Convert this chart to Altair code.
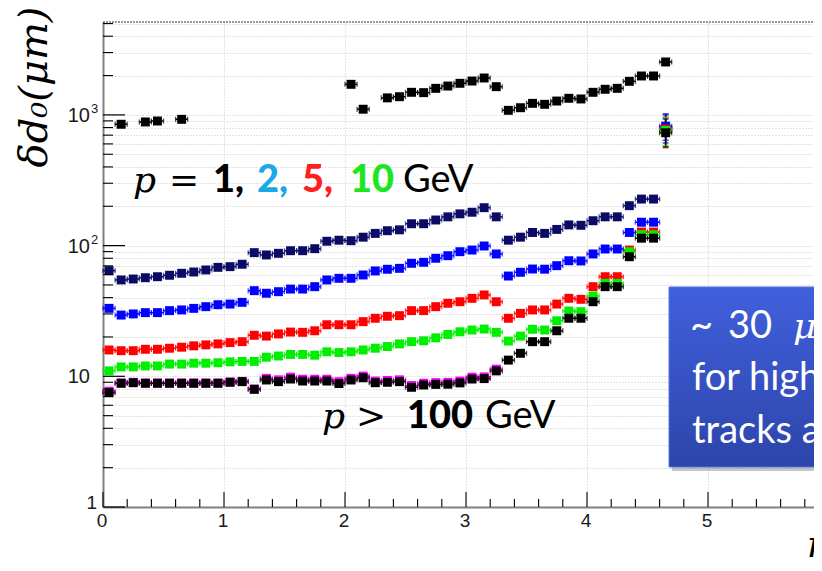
import altair as alt
import pandas as pd

# ---------------- data ----------------
ETA = [0.05, 0.15, 0.25, 0.35, 0.45, 0.55, 0.65, 0.75, 0.85, 0.95,
       1.05, 1.15, 1.25, 1.35, 1.45, 1.55, 1.65, 1.75, 1.85, 1.95,
       2.05, 2.15, 2.25, 2.35, 2.45, 2.55, 2.65, 2.75, 2.85, 2.95,
       3.05, 3.15, 3.25, 3.35, 3.45, 3.55, 3.65, 3.75, 3.85, 3.95,
       4.05, 4.15, 4.25, 4.35, 4.45, 4.55, 4.65]
BIN_HALF = 0.05

MAGENTA = [7.7, 8.9, 9.0, 8.9, 8.9, 8.9, 8.9, 8.9, 8.9, 8.9,
           9.05, 9.15, 8.0, 9.65, 9.4, 9.85, 9.5, 9.5, 9.5, 9.1,
           9.65, 10.05, 9.2, 9.3, 9.4, 8.5, 8.85, 8.95, 9.0, 9.2,
           9.85, 9.9, 11.35, None, None, None, None, None, None, None,
           None, None, None, None, None, None, None]
TOP = [None, 848, None, 883, 898, None, 925, None, None, None,
       None, None, None, None, None, None, None, None, None, None,
       1714, 1105, None, 1350, 1378, 1489, 1480, 1597, 1663, 1745,
       1816, 1916, 1644, 1084, 1135, 1226, 1205, 1277, 1340, 1324,
       1489, 1571, 1597, 1807, 1985, 1985, 2540]
NAVY = [64.3, 54.6, 55.5, 56.8, 57.8, 59.3, 61.4, 62.8, 65.1, 68.2,
        69, 72, 88.3, 84.8, 87.3, 91.4, 91.4, 94.7, 108, 110,
        109, 116, 124, 130, 132, 147, 147, 157, 166, 175,
        180, 195, 166, 110, 116, 126, 124, 133, 144, 143,
        155, 166, 166, 202, 227, 227, 790]
BLUE = [33.1, 29.4, 30.0, 30.7, 30.7, 31.8, 32.2, 33.1, 34.1, 35.3,
        35.7, 36.8, 45.2, 43.2, 44.4, 46.5, 46.5, 48.5, 54.6, 56.2,
        56.2, 59.6, 64.0, 65.9, 67.0, 73.2, 74.5, 80.0, 83.7, 89.8,
        92.5, 99.3, 86.3, 58.5, 62.5, 66.2, 66.0, 70.2, 76.6, 76.3,
        86.3, 94.2, 94.2, 126, 151, 151, 820]
RED = [15.9, 15.7, 15.7, 16.1, 16.1, 16.4, 16.7, 17.1, 17.4, 17.7,
       18.1, 18.4, 20.6, 20.3, 21.1, 21.8, 21.7, 22.3, 24.8, 24.8,
       24.8, 26.2, 27.8, 28.8, 29.1, 31.8, 31.8, 34.1, 36.2, 37.2,
       39.5, 41.9, 37.2, 27.8, 30.3, 32.2, 32.2, 35.7, 39.5, 38.8,
       48.5, 57.8, 57.8, 92.5, 127, 127, 780]
GREEN = [11.0, 11.8, 11.8, 12.0, 12.0, 12.4, 12.4, 12.6, 12.6, 12.7,
         12.9, 13.0, 13.0, 14.0, 14.3, 14.7, 14.7, 14.5, 15.4, 15.2,
         15.4, 15.9, 16.4, 16.9, 17.7, 18.4, 18.7, 19.7, 20.9, 21.9,
         22.6, 23.0, 21.7, 18.6, 20.3, 22.9, 22.6, 26.6, 31.6, 31.2,
         41.1, 51.4, 51.4, 89.8, 121, 121, 760]
BLACK = [7.5, 8.84, 8.93, 8.84, 8.84, 8.84, 8.84, 8.84, 8.84, 8.84,
         9.0, 9.1, 7.95, 9.37, 9.1, 9.53, 9.2, 9.2, 9.2, 8.8,
         9.37, 9.75, 8.93, 9.0, 9.1, 8.24, 8.58, 8.67, 8.7, 8.9,
         9.53, 9.6, 11.0, 13.3, 15.0, 18.4, 18.4, 22.3, 27.8, 27.8,
         37.2, 48.5, 48.5, 82.2, 114, 114, 730]

SERIES = ["p>100 (magenta)", "top", "1 GeV", "2 GeV", "5 GeV", "10 GeV", "p>100"]
SERIES_VALUES = [MAGENTA, TOP, NAVY, BLUE, RED, GREEN, BLACK]
SERIES_COLORS = ["#ff00ff", "#000000", "#0b0b66", "#0000ff", "#ff0000", "#00ee00", "#000000"]

# vertical uncertainties in the last eta bin
CL_SERIES = ["1 GeV", "2 GeV", "5 GeV", "10 GeV", "p>100"]
CL_VALUE = [790, 820, 780, 760, 730]
CL_LO = [610, 640, 560, 580, 570]
CL_HI = [1000, 1020, 960, 950, 930]
CL_ETA = 4.65

# axis ticks and labels
Y_MAJOR = [1, 10, 100, 1000]
Y_MINOR = [2, 3, 4, 5, 6, 7, 8, 9, 20, 30, 40, 50, 60, 70, 80, 90,
           200, 300, 400, 500, 600, 700, 800, 900, 2000, 3000, 4000, 5000]
Y_LABEL_ONE = [1]
Y_LABEL_TEN = [10, 100, 1000]
Y_SUP_AT = [100, 1000]
Y_SUP_TEXT = ["2", "3"]
X_MAJOR = [0, 1, 2, 3, 4, 5]
X_LABELS = ["0", "1", "2", "3", "4", "5"]
X_MINOR = [0.2, 0.4, 0.6, 0.8, 1.2, 1.4, 1.6, 1.8, 2.2, 2.4, 2.6, 2.8,
           3.2, 3.4, 3.6, 3.8, 4.2, 4.4, 4.6, 4.8, 5.2, 5.4, 5.6, 5.8]

rows = []
for name, vals in zip(SERIES, SERIES_VALUES):
    for e, v in zip(ETA, vals):
        if v is not None:
            rows.append({"eta": e, "value": v, "series": name})
df = pd.DataFrame(rows)
cl = pd.DataFrame({"series": CL_SERIES, "value": CL_VALUE, "lo": CL_LO, "hi": CL_HI,
                   "eta": [CL_ETA] * len(CL_SERIES)})
one = pd.DataFrame({"k": [0]})

# ---------------- layout ----------------
W, H = 711, 485
XMAX = 5.876
YMAX = 5138

xscale = alt.Scale(domain=[0, XMAX], nice=False, zero=False)
yscale = alt.Scale(type="log", domain=[1, YMAX], nice=False)
cscale = alt.Scale(domain=SERIES, range=SERIES_COLORS)

x_axis = alt.Axis(values=X_MAJOR, grid=True, gridColor="#c8c8c8",
                  gridDash=[1, 2], ticks=False, labels=False,
                  domainColor="#808080", domainWidth=2, title=None)
y_axis = alt.Axis(values=Y_MAJOR + Y_MINOR, grid=True,
                  gridColor="#c8c8c8", gridDash=[1, 2], ticks=False, labels=False,
                  domainColor="#808080", domainWidth=2, title=None)


def X(field):
    return alt.X(field, scale=xscale, axis=x_axis)


def Y(field):
    return alt.Y(field, scale=yscale, axis=y_axis)


color = alt.Color("series:N", scale=cscale, legend=None)
base = alt.Chart(df)

hbar = base.transform_calculate(
    lo=f"datum.eta - {BIN_HALF}", hi=f"datum.eta + {BIN_HALF}"
).mark_rule(strokeWidth=1.5).encode(
    x=X("lo:Q"), x2="hi:Q", y=Y("value:Q"), color=color)

cap_lo = base.transform_calculate(lo=f"datum.eta - {BIN_HALF}").mark_tick(
    orient="vertical", size=5, thickness=1.3).encode(
    x=X("lo:Q"), y=Y("value:Q"), color=color)
cap_hi = base.transform_calculate(hi=f"datum.eta + {BIN_HALF}").mark_tick(
    orient="vertical", size=5, thickness=1.3).encode(
    x=X("hi:Q"), y=Y("value:Q"), color=color)

vbar = alt.Chart(cl).mark_rule(strokeWidth=1.5).encode(
    x=X("eta:Q"), y=Y("lo:Q"), y2="hi:Q", color=color)
vcap_lo = alt.Chart(cl).mark_tick(orient="horizontal", size=6, thickness=1.5).encode(
    x=X("eta:Q"), y=Y("lo:Q"), color=color)
vcap_hi = alt.Chart(cl).mark_tick(orient="horizontal", size=6, thickness=1.5).encode(
    x=X("eta:Q"), y=Y("hi:Q"), color=color)

squares = base.mark_square(size=80, opacity=1).encode(
    x=X("eta:Q"), y=Y("value:Q"), color=color)

# inward ticks (ROOT style)
ymaj = alt.Chart(pd.DataFrame({"v": Y_MAJOR})).mark_rule(color="#000", strokeWidth=1.2).encode(
    y=Y("v:Q"), x=alt.value(0), x2=alt.value(22))
ymin = alt.Chart(pd.DataFrame({"v": Y_MINOR})).mark_rule(color="#000", strokeWidth=1.1).encode(
    y=Y("v:Q"), x=alt.value(0), x2=alt.value(10))
xmaj = alt.Chart(pd.DataFrame({"v": X_MAJOR})).mark_rule(color="#000", strokeWidth=1.1).encode(
    x=X("v:Q"), y=alt.value(H), y2=alt.value(H - 15))
xmin = alt.Chart(pd.DataFrame({"v": X_MINOR})).mark_rule(color="#000", strokeWidth=1.1).encode(
    x=X("v:Q"), y=alt.value(H), y2=alt.value(H - 8))

# tick labels
LBL = dict(font="Liberation Sans", color="#1a1a1a")
ylab_one = alt.Chart(pd.DataFrame({"v": Y_LABEL_ONE})).mark_text(
    text="1", align="right", baseline="middle", fontSize=19, dy=-4, **LBL).encode(
    y=Y("v:Q"), x=alt.value(-6))
ylab_ten = alt.Chart(pd.DataFrame({"v": Y_LABEL_TEN})).mark_text(
    text="10", align="right", baseline="middle", fontSize=20, dy=1, **LBL).encode(
    y=Y("v:Q"), x=alt.value(-13))
ylab_sup = alt.Chart(pd.DataFrame({"v": Y_SUP_AT, "t": Y_SUP_TEXT})).mark_text(
    align="left", baseline="middle", fontSize=13, dy=-6, **LBL).encode(
    y=Y("v:Q"), x=alt.value(-12), text="t:N")
xlab = alt.Chart(pd.DataFrame({"v": X_MAJOR, "t": X_LABELS})).mark_text(
    align="center", baseline="top", fontSize=19, dx=-1, **LBL).encode(
    x=X("v:Q"), y=alt.value(H + 5), text="t:N")

top_frame = alt.Chart(one).mark_rule(color="#333", strokeWidth=1, strokeDash=[2, 1]).encode(
    x=alt.value(0), x2=alt.value(W), y=alt.value(0))


def txt(s, x, y, size, color="#000", font="Lato", weight="normal", style="normal"):
    return alt.Chart(one).mark_text(
        text=s, align="left", baseline="alphabetic", font=font, fontSize=size,
        fontWeight=weight, fontStyle=style, color=color
    ).encode(x=alt.value(x), y=alt.value(y))


gradient = alt.Gradient(
    gradient="linear",
    stops=[alt.GradientStop(color="#4060dc", offset=0),
           alt.GradientStop(color="#2d45aa", offset=1)],
    x1=0, x2=0, y1=0, y2=1)
shadow = alt.Chart(one).mark_rect(color="#000", opacity=0.22).encode(
    x=alt.value(569), x2=alt.value(800), y=alt.value(268), y2=alt.value(449))
box = alt.Chart(one).mark_rect(fill=gradient, stroke="#5574e6", strokeWidth=1).encode(
    x=alt.value(566), x2=alt.value(800), y=alt.value(265), y2=alt.value(445))

texts = [
    # y-axis title, rotated
    alt.Chart(one).mark_text(
        text="δd₀(μm)", align="center", baseline="middle", font="DejaVu Serif",
        fontStyle="italic", fontSize=40, color="#000", angle=270
    ).encode(x=alt.value(-68), y=alt.value(65)),
    txt("p", 30, 170, 36, font="DejaVu Serif", style="italic"),
    txt("=", 66, 170, 36, font="DejaVu Serif"),
    txt("1,", 110, 170, 38, weight=900),
    txt("2,", 154, 170, 38, color="#1aa9e6", weight=900),
    txt("5,", 199, 170, 38, color="#ff1f1f", weight=900),
    txt("10", 247, 170, 38, color="#1ee61e", weight=900),
    txt("GeV", 300, 170, 38),
    txt("p", 219, 406, 36, font="DejaVu Serif", style="italic"),
    txt(">", 253, 406, 36, font="DejaVu Serif"),
    txt("100", 304, 406, 38, weight=900),
    txt("GeV", 382, 406, 38),
    txt("~", 587, 316, 40, color="#ffffff"),
    txt("30", 625, 316, 38, color="#ffffff"),
    txt("μm", 690, 316, 36, color="#ffffff", font="DejaVu Serif", style="italic"),
    txt("for high-pT", 589, 368, 38, color="#ffffff"),
    txt("tracks at large η", 589, 421, 38, color="#ffffff"),
    txt("η", 703, 535, 38, font="DejaVu Serif", style="italic"),
]

chart = alt.layer(
    hbar, cap_lo, cap_hi, vbar, vcap_lo, vcap_hi, squares,
    ymaj, ymin, xmaj, xmin, ylab_one, ylab_ten, ylab_sup, xlab,
    top_frame, shadow, box, *texts
).properties(
    width=W, height=H,
    autosize=alt.AutoSizeParams(type="none"),
    padding={"left": 95, "top": 14, "right": 0, "bottom": 56},
).configure_view(stroke=None)

chart.save("out.html", embed_options={"renderer": "svg", "actions": False})
